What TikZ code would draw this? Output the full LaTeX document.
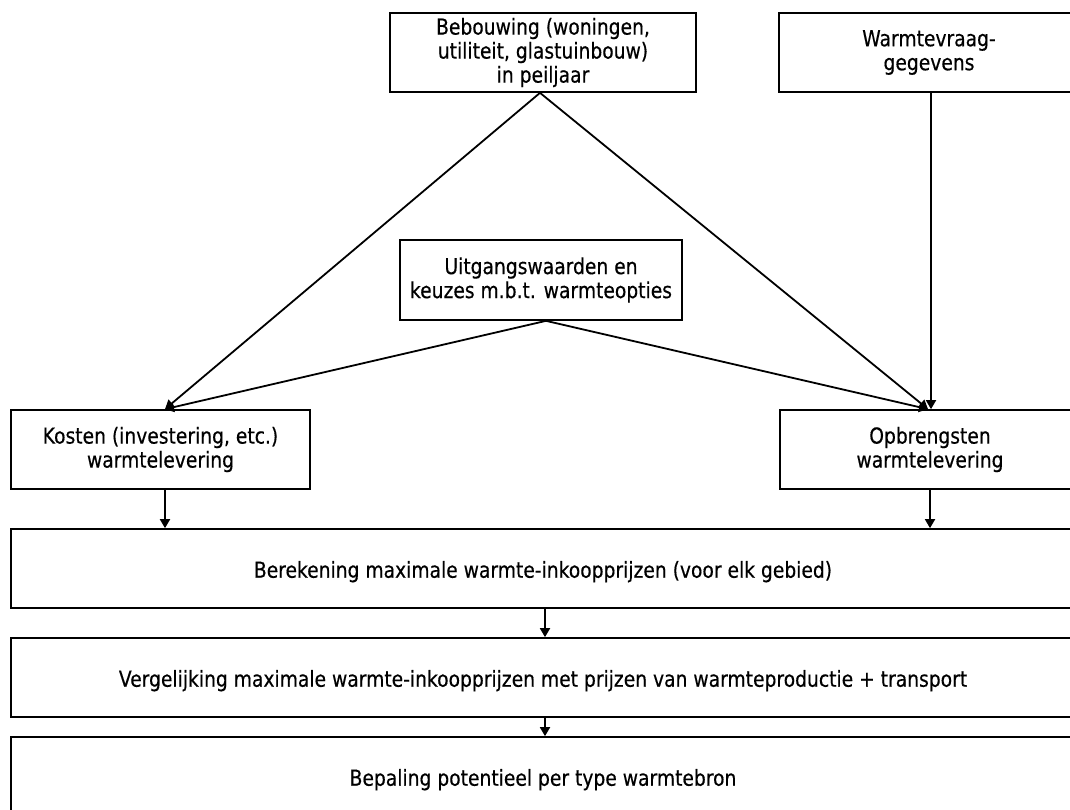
\documentclass[tikz,border=0pt]{standalone}
\usepackage{fontspec}
\setmainfont{DejaVu Sans}[FakeStretch=0.85,FakeBold=0.4]
\usetikzlibrary{arrows.meta}
\begin{document}
\begin{tikzpicture}[x=1pt,y=-1pt,
  box/.style={draw=black,line width=1.7pt,fill=white,align=center,inner sep=0pt,
    font=\fontsize{22}{24}\selectfont,
    execute at begin node={\rule{0pt}{23pt}}},
  arr/.style={line width=1.8pt,-{Triangle[length=9pt,width=10pt]}}]
\useasboundingbox (0,0) rectangle (1070,809);
\clip (0,0) rectangle (1070,809);
\fill[white] (0,0) rectangle (1070,809);
\node[box,minimum width=306pt,minimum height=79pt,execute at begin node={\rule{0pt}{27pt}}] (beb) at (543,52.5) {Bebouwing (woningen,\\utiliteit, glastuinbouw)\\in peiljaar};
\node[box,minimum width=300pt,minimum height=79pt] (wrm) at (929,52.5) {Warmtevraag-\\gegevens};
\node[box,minimum width=282pt,minimum height=80pt] (uit) at (541,280) {Uitgangswaarden en\\keuzes m.b.t. warmteopties};
\node[box,minimum width=299pt,minimum height=79pt] (kos) at (160.5,449.5) {Kosten (investering, etc.)\\warmtelevering};
\node[box,minimum width=300pt,minimum height=79pt] (opb) at (930,449.5) {Opbrengsten\\warmtelevering};
\node[box,minimum width=1064pt,minimum height=79pt] (ber) at (543,568.5) {Berekening maximale warmte-inkoopprijzen (voor elk gebied)};
\node[box,minimum width=1064pt,minimum height=79pt] (ver) at (543,677.5) {Vergelijking maximale warmte-inkoopprijzen met prijzen van warmteproductie + transport};
\node[box,minimum width=1064pt,minimum height=79pt] (bep) at (543,776.5) {Bepaling potentieel per type warmtebron};
\coordinate (kin) at ([xshift=4.5pt]kos.north);
\coordinate (kout) at ([xshift=4.5pt]kos.south);
\coordinate (oin) at ([xshift=-2pt]opb.north);
\draw[arr] ([xshift=-3pt]beb.south) -- (kin);
\draw[arr] ([xshift=-3pt]beb.south) -- (oin);
\draw[arr] ([xshift=2pt]wrm.south) -- ([xshift=1pt]opb.north);
\draw[arr] ([xshift=5pt]uit.south) -- (kin);
\draw[arr] ([xshift=5pt]uit.south) -- (oin);
\draw[arr] (kout) -- (kout |- ber.north);
\draw[arr] (opb.south) -- (opb.south |- ber.north);
\draw[arr] ([xshift=2pt]ber.south) -- ([xshift=2pt]ver.north);
\draw[arr] ([xshift=2pt]ver.south) -- ([xshift=2pt]bep.north);
\end{tikzpicture}
\end{document}
